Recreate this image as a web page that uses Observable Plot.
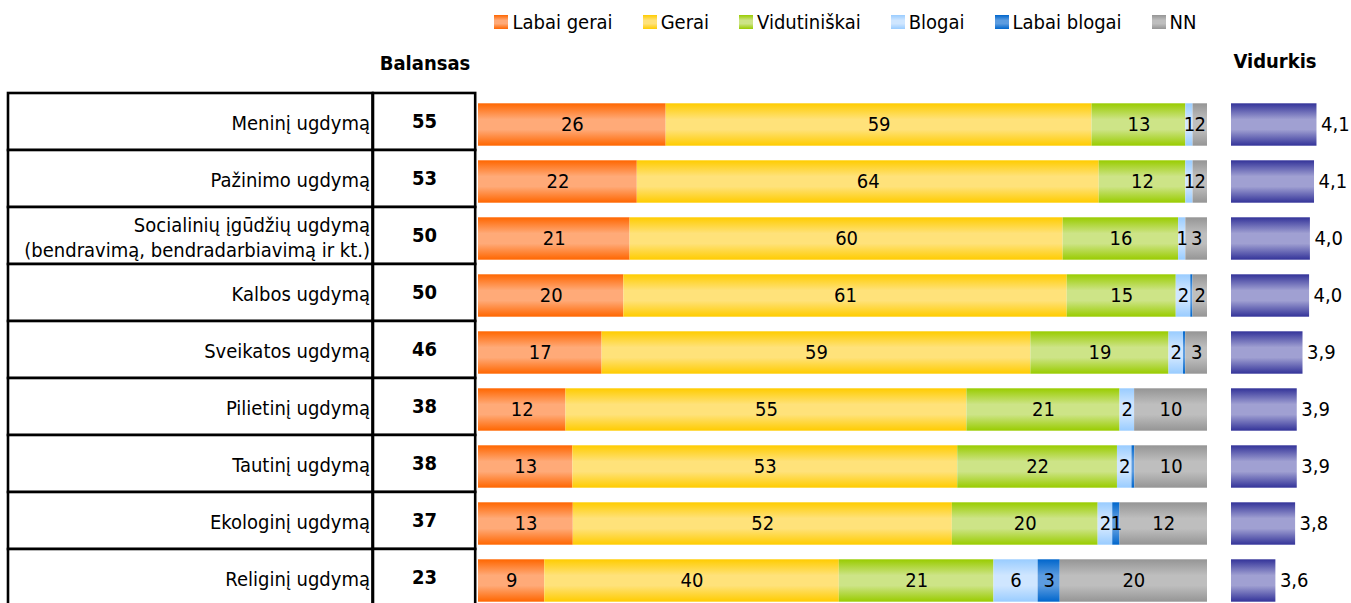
<!DOCTYPE html>
<html><head><meta charset="utf-8">
<script src="https://cdn.jsdelivr.net/npm/d3@7"></script>
<script src="https://cdn.jsdelivr.net/npm/@observablehq/plot@0.6"></script>
<style>
html,body{margin:0;padding:0;background:#fff;overflow:hidden;}
#root{position:relative;width:1351px;height:603px;overflow:hidden;font-family:"DejaVu Sans Condensed","DejaVu Sans",sans-serif;color:#000;}
.hdr{position:absolute;font-weight:bold;font-size:20px;line-height:24px;text-align:center;}
.lg-swatches-wrap{justify-content:center;}
.lg-swatch{margin-right:30px;}
.lg-swatch:last-child{margin-right:0;}
.lg-swatch > svg{margin-right:4px;}
</style></head><body><div id="root"></div>
<script>
// ---- data ----
const categories = [
  "Meninį ugdymą",
  "Pažinimo ugdymą",
  "Socialinių įgūdžių ugdymą\n(bendravimą, bendradarbiavimą ir kt.)",
  "Kalbos ugdymą",
  "Sveikatos ugdymą",
  "Pilietinį ugdymą",
  "Tautinį ugdymą",
  "Ekologinį ugdymą",
  "Religinį ugdymą"
];
const balansas = [55, 53, 50, 50, 46, 38, 38, 37, 23];
const series = ["Labai gerai", "Gerai", "Vidutiniškai", "Blogai", "Labai blogai", "NN"];
const labaiGerai   = [26, 22, 21, 20, 17, 12, 13, 13, 9];
const gerai        = [59, 64, 60, 61, 59, 55, 53, 52, 40];
const vidutiniskai = [13, 12, 16, 15, 19, 21, 22, 20, 21];
const blogai       = [1, 1, 1, 2, 2, 2, 2, 2, 6];
const labaiBlogai  = [0, 0, 0, 0.3, 0.3, 0, 0.4, 1, 3];
const nn           = [2, 2, 3, 2, 3, 10, 10, 12, 20];
const vidurkis     = [4.10, 4.07, 4.02, 4.01, 3.93, 3.86, 3.86, 3.84, 3.60];
const vidurkisAxis = [3.06, 4.52];

// ---- styles ----
const FONT = '"DejaVu Sans Condensed","DejaVu Sans",sans-serif';
const grad = {
  "Labai gerai": ["#FF6600", "#FFAA78"],
  "Gerai": ["#FFCC00", "#FFE27A"],
  "Vidutiniškai": ["#99CC00", "#CDE487"],
  "Blogai": ["#99CCFF", "#CFE6FF"],
  "Labai blogai": ["#0066CC", "#5C9CE0"],
  "NN": ["#959595", "#BEBEBE"],
  "Vidurkis": ["#333399", "#A0A0D2"]
};
const gid = k => "g" + Object.keys(grad).indexOf(k);
let defs = '<svg width="0" height="0" style="position:absolute"><defs>';
for (const k of Object.keys(grad)) {
  const [e, m] = grad[k];
  defs += `<linearGradient id="${gid(k)}" x1="0" y1="0" x2="0" y2="1">
    <stop offset="0" stop-color="${e}"/><stop offset="0.38" stop-color="${m}"/>
    <stop offset="0.62" stop-color="${m}"/><stop offset="1" stop-color="${e}"/></linearGradient>`;
}
defs += '</defs></svg>';
document.body.insertAdjacentHTML("afterbegin", defs);

const root = document.getElementById("root");
function place(el, left, top) { el.style.position = "absolute"; el.style.left = left + "px"; el.style.top = top + "px"; root.appendChild(el); return el; }

const rows = categories.map((c, i) => ({cat: c, balansas: balansas[i], vidurkis: vidurkis[i]}));
const seriesValues = [labaiGerai, gerai, vidutiniskai, blogai, labaiBlogai, nn];
const long = [];
categories.forEach((c, i) => seriesValues.forEach((arr, j) => long.push({cat: c, series: series[j], value: arr[i]})));

const H = 620;
const common = {height: H, style: {fontFamily: FONT, fontSize: "20px", background: "transparent", overflow: "visible"}};

// legend
const legend = Plot.legend({
  color: {type: "ordinal", domain: series, range: series.map(s => `url(#${gid(s)})`)},
  swatchSize: 14, className: "lg",
  style: {fontFamily: FONT, fontSize: "20px", width: "729px"}
});
place(legend, 481, 5);

// headers
const h1 = document.createElement("div"); h1.className = "hdr"; h1.textContent = "Balansas"; h1.style.width = "120px";
place(h1, 365, 51);
const h2 = document.createElement("div"); h2.className = "hdr"; h2.textContent = "Vidurkis"; h2.style.width = "120px";
place(h2, 1215, 49);

// table: label column
const tableY = {domain: categories, padding: 0, axis: null};
const labelsPlot = Plot.plot({
  ...common, width: 368.5, marginTop: 92, marginBottom: H - 606.7, marginLeft: 2, marginRight: 2,
  y: tableY, x: {axis: null},
  marks: [
    Plot.cell(rows, {y: "cat", fill: "white", stroke: "black", strokeWidth: 2.6}),
    Plot.text(rows, {y: "cat", text: "cat", frameAnchor: "right", textAnchor: "end", dx: -3, fontSize: 20, lineHeight: 1.25, fill: "black"})
  ]
});
place(labelsPlot, 6, 0);

// table: balance column
const balPlot = Plot.plot({
  ...common, width: 106.2, marginTop: 92, marginBottom: H - 606.7, marginLeft: 2, marginRight: 2,
  y: tableY, x: {axis: null},
  marks: [
    Plot.cell(rows, {y: "cat", fill: "white", stroke: "black", strokeWidth: 2.6}),
    Plot.text(rows, {y: "cat", text: "balansas", frameAnchor: "middle", fontWeight: "bold", fontSize: 20, fill: "black"})
  ]
});
place(balPlot, 370.5, 0);

// stacked bars
const barY = {domain: categories, padding: 0, axis: null};
const barsPlot = Plot.plot({
  ...common, width: 729, marginTop: 92.65, marginBottom: H - 611.95, marginLeft: 0, marginRight: 0,
  y: barY, x: {axis: null},
  color: {domain: series, range: series.map(s => `url(#${gid(s)})`)},
  marks: [
    Plot.barX(long, Plot.stackX({x: "value", y: "cat", fill: "series", offset: "normalize", insetTop: 7.3, insetBottom: 7.3})),
    Plot.text(long, Plot.stackX({x: "value", y: "cat", z: "series", offset: "normalize",
      text: d => d.value >= 0.5 ? String(Math.round(d.value)) : "", fontSize: 20, fill: "black"}))
  ]
});
place(barsPlot, 478, 0);

// mean bars
const fmt = v => v.toFixed(1).replace(".", ",");
const meanPlot = Plot.plot({
  ...common, width: 120, marginTop: 92.65, marginBottom: H - 611.95, marginLeft: 0, marginRight: 0,
  y: barY, x: {axis: null, domain: vidurkisAxis},
  marks: [
    Plot.barX(rows, {y: "cat", x1: vidurkisAxis[0], x2: "vidurkis", fill: `url(#${gid("Vidurkis")})`, insetTop: 7.3, insetBottom: 7.3}),
    Plot.text(rows, {y: "cat", x: "vidurkis", text: d => fmt(d.vidurkis), textAnchor: "start", dx: 4, fontSize: 20, fill: "black"})
  ]
});
place(meanPlot, 1231, 0);
</script></body></html>
